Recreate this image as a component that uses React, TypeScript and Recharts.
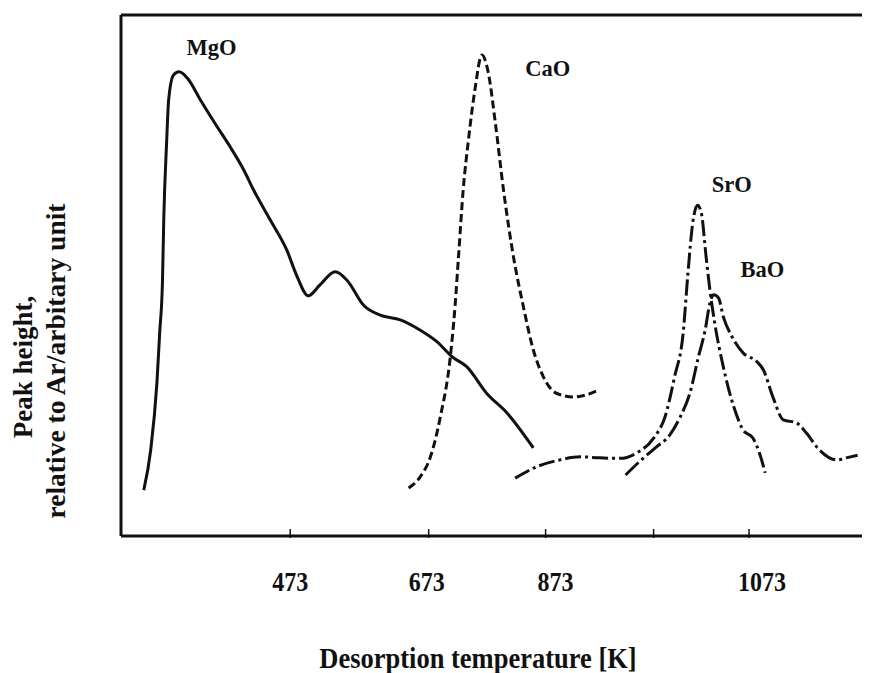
import React from "react"
import { LineChart, Line, XAxis, YAxis, ReferenceLine, ReferenceDot } from "recharts"

// desorption temperature [K] and relative peak height (arbitrary units, 0-100)
const mgoT = [261, 271, 280, 284, 288, 290, 294, 297, 304, 312, 324, 343, 367, 386, 406, 420, 444, 468, 483, 499, 516, 538, 555, 579, 603, 632, 661, 687, 713, 738, 772, 807, 852]
const mgoY = [8.8, 16.5, 29.4, 39.0, 48.6, 61.2, 75.4, 83.7, 88.5, 89.1, 87.9, 83.7, 78.6, 74.7, 70.2, 66.4, 60.7, 54.9, 49.8, 46.1, 48.2, 50.7, 49.1, 44.3, 42.4, 41.5, 39.5, 37.3, 34.4, 32.5, 27.4, 23.6, 16.9]

const caoT = [644, 661, 676, 693, 710, 718, 724, 732, 741, 752, 764, 775, 787, 801, 818, 835, 852, 869, 883, 899, 911, 922]
const caoY = [9.2, 11.4, 15.2, 22.9, 34.4, 44.0, 53.6, 66.4, 76.0, 85.6, 92.3, 88.9, 79.3, 66.4, 53.6, 44.0, 35.7, 30.6, 27.4, 26.7, 27.1, 28.0]

const sroT = [821, 858, 886, 905, 923, 942, 957, 973, 985, 995, 1004, 1009, 1014, 1019, 1023, 1028, 1032, 1037, 1046, 1057, 1067, 1077, 1084, 1090]
const sroY = [11.1, 13.3, 14.6, 15.2, 15.0, 14.9, 15.9, 18.8, 22.9, 30.6, 39.0, 50.5, 60.1, 63.5, 62.0, 53.6, 47.2, 40.9, 32.5, 24.8, 20.3, 18.8, 15.9, 12.1]

const baoT = [947, 960, 976, 990, 1001, 1011, 1020, 1027, 1032, 1036, 1041, 1046, 1055, 1067, 1081, 1088, 1098, 1109, 1123, 1133, 1147, 1165, 1175, 1187]
const baoY = [11.7, 14.3, 17.1, 19.4, 22.9, 27.4, 34.4, 39.5, 44.7, 46.3, 45.7, 42.1, 38.3, 35.1, 33.5, 31.9, 26.7, 22.3, 21.7, 19.8, 16.5, 14.6, 15.0, 15.5]

const tickValues = [473, 673, 873, 973, 1073]
const tickLabels = ["473", "673", "873", "", "1073"]

const curveNames = ["MgO", "CaO", "SrO", "BaO"]
const curveLabelT = [359, 875, 1055, 1087]
const curveLabelY = [93.7, 89.8, 67.4, 51.1]

// the printed temperature axis is not linear: where each temperature sits along it (0 = left edge, 1 = right edge)
const axisKnotT = [228, 473, 673, 873, 973, 1073, 1200]
const axisKnotF = [0, 0.2259, 0.4108, 0.5669, 0.7111, 0.8385, 1]

const toPoints = (xs: number[], ys: number[]) => xs.map((t, i) => ({ t, v: ys[i] }))

function piecewiseScale(dom: number[] = [axisKnotT[0], axisKnotT[axisKnotT.length - 1]], rng: number[] = [0, 1]): any {
  const frac = (t: number) => {
    let i = 0
    while (i < axisKnotT.length - 2 && t > axisKnotT[i + 1]) i++
    const t0 = axisKnotT[i], t1 = axisKnotT[i + 1]
    return axisKnotF[i] + ((t - t0) / (t1 - t0)) * (axisKnotF[i + 1] - axisKnotF[i])
  }
  const s: any = (t: number) => {
    const f0 = frac(dom[0]), f1 = frac(dom[1])
    return rng[0] + ((frac(Number(t)) - f0) / (f1 - f0)) * (rng[1] - rng[0])
  }
  s.domain = (d?: any[]) => {
    if (d === undefined) return dom.slice()
    dom = [Number(d[0]), Number(d[d.length - 1])]
    return s
  }
  s.range = (r?: number[]) => {
    if (r === undefined) return rng.slice()
    rng = [r[0], r[r.length - 1]]
    return s
  }
  s.copy = () => piecewiseScale(dom.slice(), rng.slice())
  s.ticks = () => tickValues.slice()
  s.tickFormat = () => (v: number) => String(v)
  s.nice = () => s
  s.clamp = () => s
  s.invert = (p: number) => {
    const f0 = frac(dom[0]), f1 = frac(dom[1])
    const f = f0 + ((p - rng[0]) / (rng[1] - rng[0])) * (f1 - f0)
    let i = 0
    while (i < axisKnotF.length - 2 && f > axisKnotF[i + 1]) i++
    return axisKnotT[i] + ((f - axisKnotF[i]) / (axisKnotF[i + 1] - axisKnotF[i])) * (axisKnotT[i + 1] - axisKnotT[i])
  }
  return s
}

const tempScale = piecewiseScale()

const FONT = "'Liberation Serif', 'Times New Roman', serif"
const labelShift: Record<string, number> = { "673": -2, "873": 10, "1073": 13 }

function TempTick({ x, y, payload }: any) {
  const text = tickLabels[tickValues.indexOf(payload.value)] ?? ""
  return (
    <g>
      <line x1={x} x2={x} y1={y} y2={y - 9} stroke="#111" strokeWidth={1.5} />
      <text
        x={x + (labelShift[text] ?? 0)}
        y={y + 44}
        textAnchor="middle"
        dominantBaseline="central"
        fontFamily={FONT}
        fontWeight="bold"
        fontSize={24}
        fill="#111"
        transform={`translate(0 ${y + 44}) scale(1 1.12) translate(0 ${-(y + 44)})`}
      >
        {text}
      </text>
    </g>
  )
}

const curveLabel = (name: string) => (p: any) => (
  <text
    x={p.cx}
    y={p.cy}
    textAnchor="middle"
    dominantBaseline="central"
    fontFamily={FONT}
    fontWeight="bold"
    fontSize={22.5}
    fill="#111"
  >
    {name}
  </text>
)

export default function App() {
  return (
    <LineChart width={862} height={665} margin={{ top: 7, right: 0, left: 113, bottom: 0 }}>
      <XAxis
        dataKey="t"
        type="number"
        domain={[axisKnotT[0], axisKnotT[axisKnotT.length - 1]]}
        scale={tempScale}
        ticks={tickValues}
        allowDataOverflow
        height={137}
        tickSize={0}
        tickLine={false}
        axisLine={{ stroke: "#111", strokeWidth: 3 }}
        tick={<TempTick />}
      />
      <YAxis type="number" domain={[0, 100]} width={0} hide />
      <ReferenceLine y={100} stroke="#111" strokeWidth={3} />
      <ReferenceLine x={axisKnotT[0]} stroke="#111" strokeWidth={3} />

      <Line data={toPoints(mgoT, mgoY)} dataKey="v" type="monotone" stroke="#111" strokeWidth={3} dot={false} isAnimationActive={false} />
      <Line data={toPoints(caoT, caoY)} dataKey="v" type="monotone" stroke="#111" strokeWidth={3} strokeDasharray="8 4" dot={false} isAnimationActive={false} />
      <Line data={toPoints(sroT, sroY)} dataKey="v" type="monotone" stroke="#111" strokeWidth={3} strokeDasharray="16 4 3 4" dot={false} isAnimationActive={false} />
      <Line data={toPoints(baoT, baoY)} dataKey="v" type="monotone" stroke="#111" strokeWidth={3} strokeDasharray="18 4 3 4" dot={false} isAnimationActive={false} />

      {curveNames.map((name, i) => (
        <ReferenceDot key={name} x={curveLabelT[i]} y={curveLabelY[i]} r={0} shape={curveLabel(name)} />
      ))}

      <text x={470} y={650} transform="translate(0 650) scale(1 1.1) translate(0 -650)" textAnchor="middle" dominantBaseline="central" fontFamily={FONT} fontWeight="bold" fontSize={26.5} fill="#111">
        Desorption temperature [K]
      </text>
      <text x={15} y={359} transform="rotate(-90 15 359)" textAnchor="middle" dominantBaseline="central" fontFamily={FONT} fontWeight="bold" fontSize={27} fill="#111">
        Peak height,
      </text>
      <text x={47} y={353} transform="rotate(-90 47 353)" textAnchor="middle" dominantBaseline="central" fontFamily={FONT} fontWeight="bold" fontSize={27.5} fill="#111">
        relative to Ar/arbitary unit
      </text>
    </LineChart>
  )
}
